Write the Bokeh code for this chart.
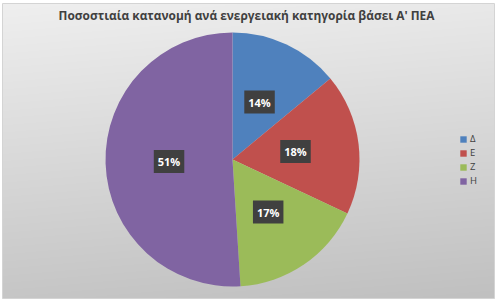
import numpy as np
from bokeh.plotting import figure
from bokeh.models import Range1d, Legend, LegendItem, Label, ColumnDataSource
from bokeh.core.properties import value
from bokeh.embed import file_html
from bokeh.resources import INLINE

title = "Ποσοστιαία κατανομή ανά ενεργειακή κατηγορία βάσει Α' ΠΕΑ"
categories = ["Δ", "Ε", "Ζ", "Η"]
percents = [14, 18, 17, 51]
colors = ["#4F81BD", "#C0504D", "#9BBB59", "#8064A2"]

W, H = 496, 302
p = figure(width=W, height=H, output_backend="svg", toolbar_location=None,
           x_range=Range1d(0, W), y_range=Range1d(0, H), min_border=0)
p.axis.visible = False
p.grid.visible = False
p.outline_line_color = None
p.background_fill_color = "white"
p.border_fill_color = "white"

# gradient background
bx0, by0, bw, bh = 2, 4, 492, 295
rows = np.linspace(0, 1, bh)[:, None]  # 0 bottom, 1 top
cols = np.linspace(0, 1, bw)[None, :]
g = (0xc6 + (0xef - 0xc6) * rows - 6 * cols).clip(0, 255).astype(np.uint32)
img = (255 << 24) | (g << 16) | (g << 8) | g
p.image_rgba(image=[img.astype(np.uint32)], x=bx0, y=by0, dw=bw, dh=bh)
p.quad(left=bx0, right=bx0 + bw, bottom=by0, top=by0 + bh,
       fill_color=None, line_color="#d4d4d4", line_width=1)

# pie
cx, cy, r = 232, H - 159, 127
frac = np.array(percents) / sum(percents)
cum = np.concatenate([[0], np.cumsum(frac)])
end = np.pi / 2 - 2 * np.pi * cum[:-1]
start = np.pi / 2 - 2 * np.pi * cum[1:]
mid = (start + end) / 2
src = ColumnDataSource(dict(cat=categories, start=start, end=end, color=colors,
                            lx=cx + 0.5 * r * np.cos(mid), ly=cy + 0.5 * r * np.sin(mid),
                            lab=[f"{v}%" for v in percents]))
wr = p.wedge(x=cx, y=cy, radius=r, start_angle="start", end_angle="end",
             fill_color="color", line_color=None, source=src)

p.text(x="lx", y="ly", text="lab", source=src, text_color="white",
       text_font=value("Open Sans"), text_font_style="bold", text_font_size="11px",
       text_align="center", text_baseline="middle",
       background_fill_color="#404040", padding=4)

p.add_layout(Label(x=246, y=H - 14, text=title, text_align="center", text_baseline="middle",
                   text_font="Open Sans", text_font_style="bold", text_font_size="11.9px",
                   text_color="#404040"))

legend = Legend(items=[LegendItem(label=c, renderers=[wr], index=i) for i, c in enumerate(categories)],
                location=(459, H - 187), padding=0, margin=0, spacing=1,
                glyph_width=8, glyph_height=8, label_height=8, label_standoff=3,
                label_text_font="Open Sans", label_text_font_size="9.5px",
                label_text_color="#404040", background_fill_alpha=0, border_line_color=None)
p.add_layout(legend)

open("out.html", "w").write(file_html(p, INLINE))
